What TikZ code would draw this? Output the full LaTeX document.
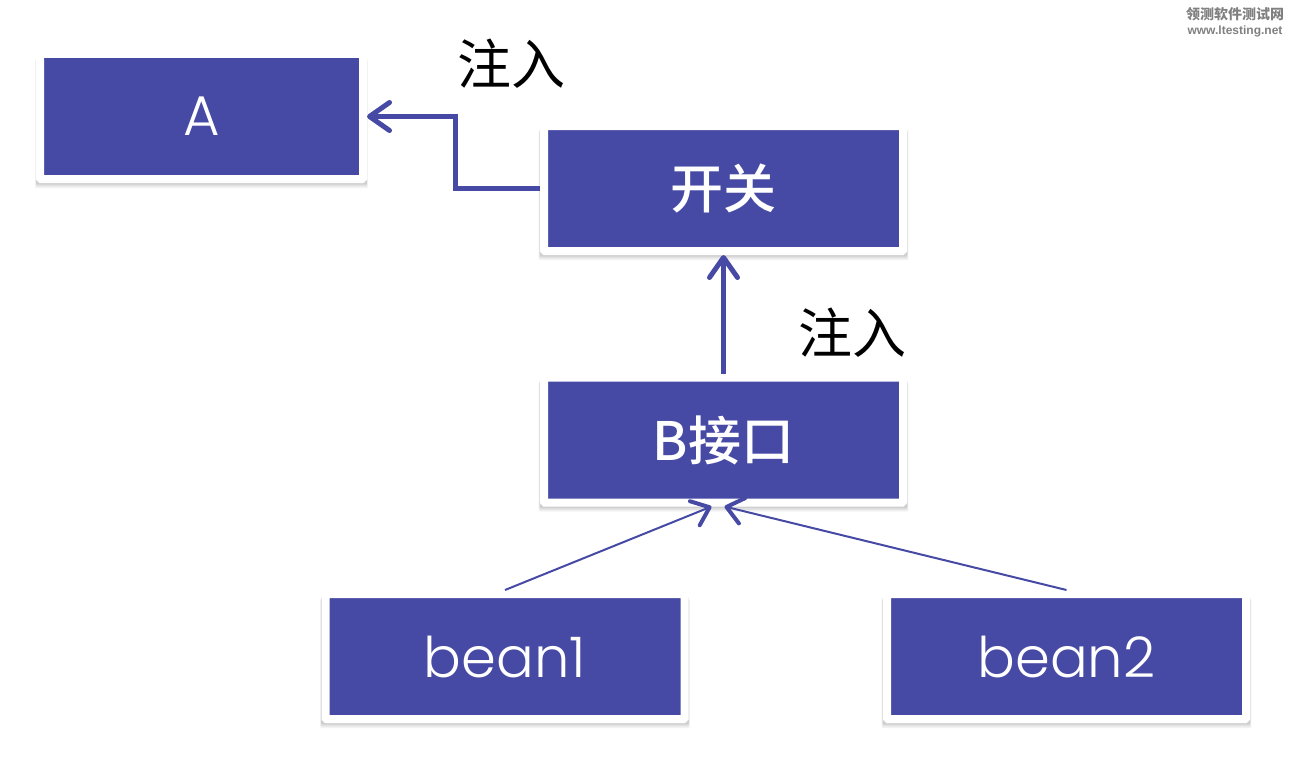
\documentclass[tikz,border=0pt]{standalone}
\usepackage{fontspec}
\setmainfont{Liberation Sans}
\newfontfamily\cjk{Noto Sans CJK SC}
\newfontfamily\cjkmed{Noto Sans CJK SC Medium}
\newfontfamily\geo{Poppins Light}
\usetikzlibrary{arrows.meta,shadows}
\definecolor{boxblue}{HTML}{464AA4}
\tikzset{
  box/.style={rectangle, fill=boxblue, draw=white, line width=8pt, rounded corners=1pt,
    inner sep=0pt, minimum width=359pt, minimum height=125pt, text=white,
    general shadow={shadow scale=1.03, shadow yshift=-7pt, fill=black, opacity=.05},
    general shadow={shadow scale=1.026, shadow yshift=-5.5pt, fill=black, opacity=.07},
    general shadow={shadow scale=1.024, shadow yshift=-4pt, fill=black, opacity=.08}},
  inject/.style={draw=boxblue, line width=5pt, -{Straight Barb[length=20pt,width=28pt,round]}},
  impl/.style={draw=boxblue, line width=2pt, -{Straight Barb[length=16pt,width=26pt,line width=4pt,round]}},
}
\newcommand*{\cjkbig}[1]{{\cjk\fontsize{54}{54}\selectfont #1}}
\newcommand*{\geobig}[1]{{\geo\fontsize{56}{56}\selectfont #1}}

\begin{document}
\begin{tikzpicture}[x=1pt,y=-1pt]
\useasboundingbox (0,0) rectangle (1296,776);

\node[box,minimum width=323pt] (A) at (201.5,116.5) {\geobig{A}};
\node[box] (switch) at (723.5,188.5) {\cjkmed\fontsize{53}{53}\selectfont 开关};
\node[box] (B) at (723.5,440) {\cjkmed\fontsize{53}{53}\selectfont B接口};
\node[box] (bean1) at (505,656.5) {\geobig{bean1}};
\node[box] (bean2) at (1066.5,656.5) {\geobig{bean2}};

\node (injA) at (511,64) {\cjkbig{注入}};
\node (injB) at (852,333) {\cjkbig{注入}};

\draw[inject] (switch.west) -- ++(-85,0) |- (A.east);
\draw[inject] (B.north) -- (switch.south);
\draw[impl] (bean1.north) -- ([xshift=-12pt]B.south);
\draw[impl] (bean2.north) -- ([xshift=1pt]B.south);

% watermark
\node[text=gray] (wmcn) at (1235,14) {\cjk\bfseries\fontsize{14}{14}\selectfont 领测软件测试网};
\node[text=gray] (wmurl) at (1235,31) {\bfseries\fontsize{12}{12}\selectfont www.ltesting.net};
\end{tikzpicture}
\end{document}
